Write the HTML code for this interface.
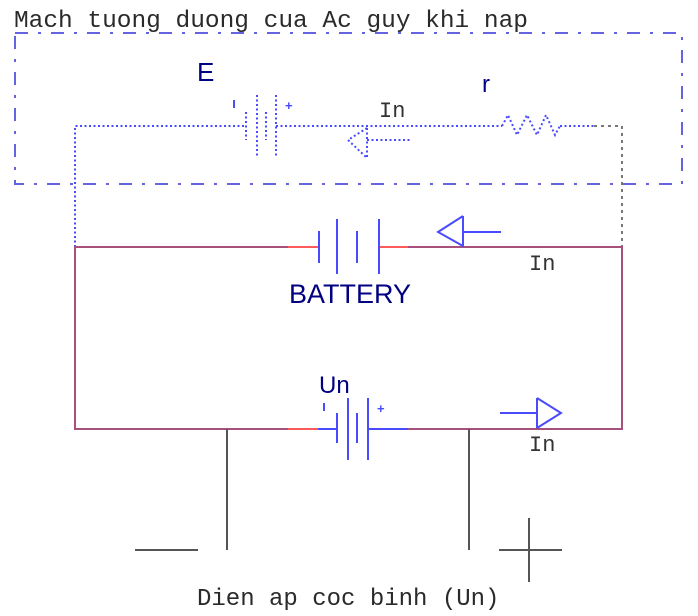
<!DOCTYPE html>
<html>
<head>
<meta charset="utf-8">
<style>
html,body{margin:0;padding:0;background:#fff;}
svg{display:block;}
</style>
</head>
<body>
<svg width="698" height="616" viewBox="0 0 698 616" xmlns="http://www.w3.org/2000/svg">
<rect x="0" y="0" width="698" height="616" fill="#fff"/>

<!-- Title -->
<text x="14" y="27" font-family="Liberation Mono, monospace" font-size="24.5" textLength="514" lengthAdjust="spacing" fill="#2a2a2a">Mach tuong duong cua Ac guy khi nap</text>

<!-- Dash-dot enclosure -->
<rect x="15" y="33" width="667" height="151" fill="none" stroke="#6464e0" stroke-width="2" stroke-dasharray="13,10,3,10"/>

<!-- Inner dotted circuit -->
<g fill="none" stroke="#4a4aff" stroke-width="2" stroke-dasharray="2,2.5">
  <path d="M75,247 V126 H246"/>
  <path d="M276,126 H502"/>
  <polyline points="502,126 508,115 517,135 527,115 537,135 546,115 555,135 560,126"/>
  <path d="M560,126 H594"/>
  <!-- E battery plates -->
  <line x1="246" y1="112" x2="246" y2="140"/>
  <line x1="257" y1="95" x2="257" y2="157"/>
  <line x1="266" y1="112" x2="266" y2="140"/>
  <line x1="276" y1="95" x2="276" y2="157"/>
  <!-- dotted arrow pointing left -->
  <polyline points="367,128 348,140 367,158"/>
  <line x1="367" y1="128" x2="367" y2="158"/>
  <line x1="367" y1="140" x2="412" y2="140"/>
</g>
<g fill="none" stroke="#777" stroke-width="2" stroke-dasharray="3,4">
  <path d="M594,126 H622 V247"/>
</g>
<!-- E polarity marks -->
<line x1="234" y1="100" x2="234" y2="108" stroke="#4a4aff" stroke-width="2"/>
<text x="285" y="110" font-family="Liberation Sans, sans-serif" font-size="13" font-weight="bold" fill="#4a4aff">+</text>

<!-- Labels in box -->
<text x="197" y="81" font-family="Liberation Sans, sans-serif" font-size="26" fill="#000080">E</text>
<text x="482" y="92" font-family="Liberation Sans, sans-serif" font-size="24" fill="#000080">r</text>
<text x="379" y="117" font-family="Liberation Mono, monospace" font-size="22" fill="#333">In</text>

<!-- Main rectangle wires -->
<g fill="none" stroke="#a8507c" stroke-width="2">
  <path d="M288,247 H75 V429 H288"/>
  <path d="M408,247 H622 V429 H408"/>
</g>
<g stroke="#ff5a5a" stroke-width="2">
  <line x1="288" y1="247" x2="319" y2="247"/>
  <line x1="379" y1="247" x2="408" y2="247"/>
  <line x1="288" y1="429" x2="318" y2="429"/>
</g>

<!-- BATTERY symbol -->
<g stroke="#4a4aff" stroke-width="2" fill="none">
  <line x1="319" y1="231" x2="319" y2="263"/>
  <line x1="337" y1="219" x2="337" y2="274"/>
  <line x1="357" y1="231" x2="357" y2="263"/>
  <line x1="379" y1="219" x2="379" y2="274"/>
  <!-- arrow top (left) -->
  <polyline points="463,216 438,232 463,246"/>
  <line x1="463" y1="216" x2="463" y2="247"/>
  <line x1="463" y1="232" x2="501" y2="232"/>
  <!-- Un battery -->
  <line x1="318" y1="429" x2="337" y2="429"/>
  <line x1="368" y1="429" x2="408" y2="429"/>
  <line x1="337" y1="413" x2="337" y2="443"/>
  <line x1="348" y1="398" x2="348" y2="460"/>
  <line x1="357" y1="413" x2="357" y2="443"/>
  <line x1="368" y1="398" x2="368" y2="460"/>
  <line x1="324" y1="403" x2="324" y2="411"/>
  <!-- arrow bottom (right) -->
  <line x1="500" y1="413" x2="537" y2="413"/>
  <line x1="537" y1="398" x2="537" y2="428"/>
  <polyline points="537,398 561,413 537,428"/>
</g>
<text x="377" y="413" font-family="Liberation Sans, sans-serif" font-size="13" font-weight="bold" fill="#4a4aff">+</text>

<text x="289" y="303" font-family="Liberation Sans, sans-serif" font-size="27" fill="#000080">BATTERY</text>
<text x="529" y="270" font-family="Liberation Mono, monospace" font-size="22" fill="#333">In</text>
<text x="319" y="393" font-family="Liberation Sans, sans-serif" font-size="24" fill="#000080">Un</text>
<text x="529" y="451" font-family="Liberation Mono, monospace" font-size="22" fill="#333">In</text>

<!-- Terminal leads -->
<g stroke="#555" stroke-width="2">
  <line x1="227" y1="429" x2="227" y2="550"/>
  <line x1="469" y1="429" x2="469" y2="550"/>
  <line x1="135" y1="550" x2="198" y2="550"/>
  <line x1="499" y1="550" x2="562" y2="550"/>
  <line x1="529" y1="518" x2="529" y2="582"/>
</g>

<text x="197" y="605" font-family="Liberation Mono, monospace" font-size="24" fill="#2a2a2a">Dien ap coc binh (Un)</text>
</svg>
</body>
</html>
